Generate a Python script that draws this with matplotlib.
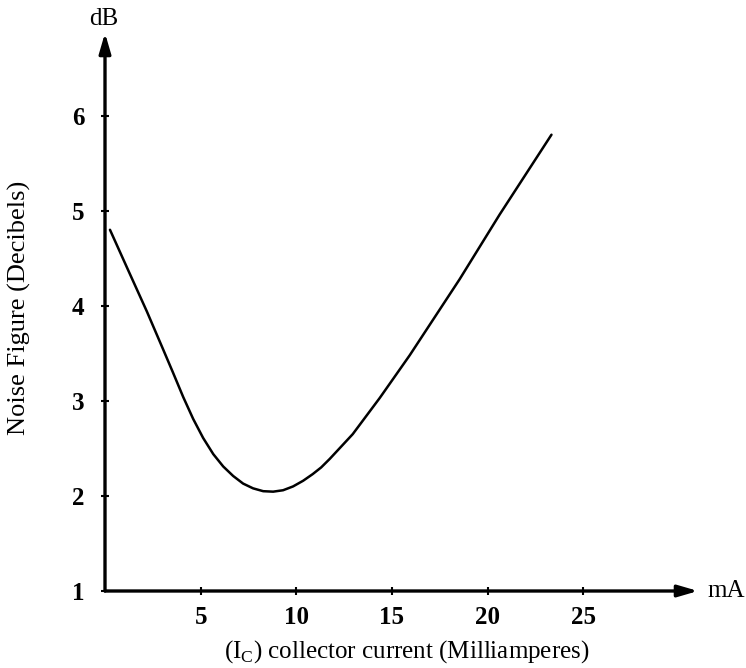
import numpy as np
import matplotlib
matplotlib.use('Agg')
import matplotlib.pyplot as plt

plt.rcParams['font.family'] = ['Liberation Serif', 'DejaVu Serif']
plt.rcParams['mathtext.fontset'] = 'custom'
plt.rcParams['mathtext.rm'] = 'Liberation Serif'

# values
current_ma = [0.26, 1.2, 2.19, 3.0, 3.55, 4.09, 4.61, 5.13, 5.66, 6.18, 6.70, 7.22,
              7.74, 8.27, 8.79, 9.31, 9.83, 10.36, 10.86, 11.3, 11.75, 12.95,
              14.36, 15.93, 18.54, 20.63, 23.34]
noise_db = [4.80, 4.38, 3.94, 3.56, 3.30, 3.04, 2.81, 2.61, 2.44, 2.31, 2.21, 2.13,
            2.08, 2.05, 2.045, 2.06, 2.10, 2.16, 2.23, 2.30, 2.39, 2.65,
            3.03, 3.48, 4.28, 4.96, 5.80]
x_ticks = [5, 10, 15, 20, 25]
y_ticks = [1, 2, 3, 4, 5, 6]

fig = plt.figure(figsize=(7.46, 6.68), dpi=100)
ax = fig.add_axes([105 / 746, 77 / 668, 593 / 746, 558 / 668])
ax.set_xlim(0, 31)
ax.set_ylim(1, 6.87)

ax.plot(current_ma, noise_db, color='black', lw=1.8,
        solid_capstyle='round', solid_joinstyle='round')

# axes with arrow heads
for s in ax.spines.values():
    s.set_visible(False)
arrow = dict(arrowstyle='-|>,head_length=1.2,head_width=0.35', color='black',
             lw=2.4, shrinkA=0, shrinkB=0)
ax.annotate('', xy=(1, 0), xytext=(0, 0), xycoords='axes fraction',
            arrowprops=arrow, annotation_clip=False)
ax.annotate('', xy=(0, 1), xytext=(0, 0), xycoords='axes fraction',
            arrowprops=arrow, annotation_clip=False)

ax.set_xticks(x_ticks)
ax.set_yticks(y_ticks)
ax.tick_params(direction='inout', length=6, width=1.5, labelsize=18)
ax.tick_params(axis='x', pad=8)
ax.tick_params(axis='y', pad=12)
for lab in ax.get_xticklabels() + ax.get_yticklabels():
    lab.set_fontweight('bold')

fig.text(104 / 746, 1 - 19 / 668, 'dB', ha='center', va='center', fontsize=18)
fig.text(707 / 746, 1 - 591 / 668, 'mA', ha='left', va='center', fontsize=18)

fig.text(19 / 746, 1 - 308 / 668, 'Noise Figure (Decibels)', rotation=90,
         ha='center', va='center', fontsize=19)
fig.text(407 / 746, 1 - 652 / 668, '(I$_{\\rm C}$) collector current (Milliamperes)',
         ha='center', va='center', fontsize=18)

fig.savefig('out.png', dpi=100)
